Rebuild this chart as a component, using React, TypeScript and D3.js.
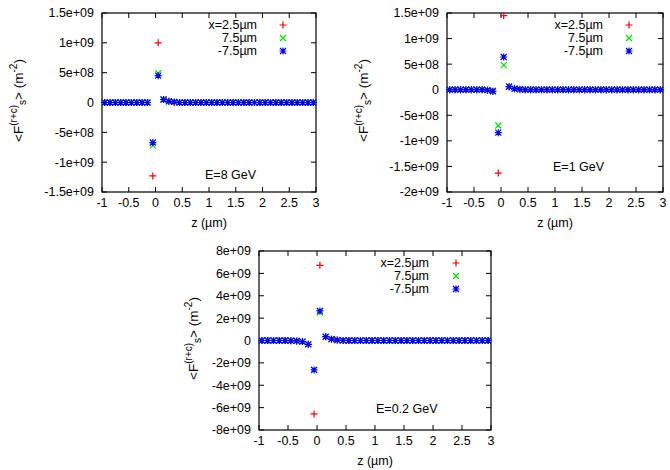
import React from "react";
import * as d3 from "d3";

// z positions (µm)
const Z = [
  -0.95, -0.85, -0.75, -0.65, -0.55, -0.45, -0.35, -0.25, -0.15, -0.05,
  0.05, 0.15, 0.25, 0.35, 0.45, 0.55, 0.65, 0.75, 0.85, 0.95,
  1.05, 1.15, 1.25, 1.35, 1.45, 1.55, 1.65, 1.75, 1.85, 1.95,
  2.05, 2.15, 2.25, 2.35, 2.45, 2.55, 2.65, 2.75, 2.85, 2.95,
];

// values in units of 1e9 m^-2
const E8_X25 = [
  0, 0, 0, 0, 0, 0, 0, 0, 0, -1.23,
  1.0, 0.05, 0.02, 0, 0, 0, 0, 0, 0, 0,
  0, 0, 0, 0, 0, 0, 0, 0, 0, 0,
  0, 0, 0, 0, 0, 0, 0, 0, 0, 0,
];
const E8_X75 = [
  0, 0, 0, 0, 0, 0, 0, 0, 0, -0.72,
  0.49, 0.05, 0.02, 0.01, 0, 0, 0, 0, 0, 0,
  0, 0, 0, 0, 0, 0, 0, 0, 0, 0,
  0, 0, 0, 0, 0, 0, 0, 0, 0, 0,
];
const E8_XM75 = [
  0, 0, 0, 0, 0, 0, 0, 0, 0, -0.67,
  0.45, 0.05, 0.02, 0.01, 0, 0, 0, 0, 0, 0,
  0, 0, 0, 0, 0, 0, 0, 0, 0, 0,
  0, 0, 0, 0, 0, 0, 0, 0, 0, 0,
];

const E1_X25 = [
  0, 0, 0, 0, 0, 0, 0, -0.01, -0.03, -1.63,
  1.45, 0.06, 0.02, 0, 0, 0, 0, 0, 0, 0,
  0, 0, 0, 0, 0, 0, 0, 0, 0, 0,
  0, 0, 0, 0, 0, 0, 0, 0, 0, 0,
];
const E1_X75 = [
  0, 0, 0, 0, 0, 0, 0, -0.01, -0.02, -0.7,
  0.48, 0.06, 0.02, 0, 0, 0, 0, 0, 0, 0,
  0, 0, 0, 0, 0, 0, 0, 0, 0, 0,
  0, 0, 0, 0, 0, 0, 0, 0, 0, 0,
];
const E1_XM75 = [
  0, 0, 0, 0, 0, 0, 0, -0.01, -0.03, -0.84,
  0.64, 0.06, 0.02, 0.01, 0, 0, 0, 0, 0, 0,
  0, 0, 0, 0, 0, 0, 0, 0, 0, 0,
  0, 0, 0, 0, 0, 0, 0, 0, 0, 0,
];

const E02_X25 = [
  0, 0, 0, 0, 0, -0.02, -0.04, -0.1, -0.34, -6.56,
  6.72, 0.34, 0.12, 0.04, 0, 0, 0, 0, 0, 0,
  0, 0, 0, 0, 0, 0, 0, 0, 0, 0,
  0, 0, 0, 0, 0, 0, 0, 0, 0, 0,
];
const E02_X75 = [
  0, 0, 0, 0, 0, -0.02, -0.04, -0.1, -0.32, -2.62,
  2.5, 0.32, 0.12, 0.04, 0, 0, 0, 0, 0, 0,
  0, 0, 0, 0, 0, 0, 0, 0, 0, 0,
  0, 0, 0, 0, 0, 0, 0, 0, 0, 0,
];
const E02_XM75 = [
  0, 0, 0, 0, 0, -0.02, -0.04, -0.1, -0.34, -2.63,
  2.64, 0.34, 0.12, 0.04, 0.01, 0, 0, 0, 0, 0,
  0, 0, 0, 0, 0, 0, 0, 0, 0, 0,
  0, 0, 0, 0, 0, 0, 0, 0, 0, 0,
];

const X_TICKS = [-1, -0.5, 0, 0.5, 1, 1.5, 2, 2.5, 3];
const X_TICK_LABELS = ["-1", "-0.5", "0", "0.5", "1", "1.5", "2", "2.5", "3"];

const Y8_TICKS = [1.5, 1, 0.5, 0, -0.5, -1, -1.5];
const Y8_LABELS = ["1.5e+09", "1e+09", "5e+08", "0", "-5e+08", "-1e+09", "-1.5e+09"];
const Y1_TICKS = [1.5, 1, 0.5, 0, -0.5, -1, -1.5, -2];
const Y1_LABELS = ["1.5e+09", "1e+09", "5e+08", "0", "-5e+08", "-1e+09", "-1.5e+09", "-2e+09"];
const Y02_TICKS = [8, 6, 4, 2, 0, -2, -4, -6, -8];
const Y02_LABELS = ["8e+09", "6e+09", "4e+09", "2e+09", "0", "-2e+09", "-4e+09", "-6e+09", "-8e+09"];

const SERIES_NAMES = ["x=2.5µm", "7.5µm", "-7.5µm"];
const COLORS = ["#ff0000", "#00e000", "#0000ff"];
const MARKERS = ["plus", "cross", "star"];

const FONT = "'Liberation Sans', Arial, Helvetica, sans-serif";

function markerPath(type: string, s: number) {
  const plus = `M${-s},0H${s}M0,${-s}V${s}`;
  const c = s * 0.85;
  const cross = `M${-c},${-c}L${c},${c}M${-c},${c}L${c},${-c}`;
  if (type === "plus") return plus;
  if (type === "cross") return cross;
  return plus + cross;
}

type PanelProps = {
  x0: number; x1: number; y0: number; y1: number;
  yDomain: [number, number];
  yTicks: number[]; yLabels: string[];
  series: number[][];
  eLabel: string; eX: number; eY: number;
  legX: number; legSymX: number; legY: number;
  ylabX: number;
};

function Panel(p: PanelProps) {
  const x = d3.scaleLinear().domain([-1, 3]).range([p.x0, p.x1]);
  const y = d3.scaleLinear().domain(p.yDomain).range([p.y1, p.y0]);
  const tl = 5;
  const midY = (p.y0 + p.y1) / 2 - 2;
  return (
    <g fontFamily={FONT} fontSize={12.5} fill="#000">
      {X_TICKS.map((t, i) => (
        <g key={"xt" + i}>
          <line x1={x(t)} x2={x(t)} y1={p.y1} y2={p.y1 - tl} stroke="#000" />
          <line x1={x(t)} x2={x(t)} y1={p.y0} y2={p.y0 + tl} stroke="#000" />
          <text x={x(t)} y={p.y1 + 11} dy="0.35em" textAnchor="middle">{X_TICK_LABELS[i]}</text>
        </g>
      ))}
      {p.yTicks.map((t, i) => (
        <g key={"yt" + i}>
          <line x1={p.x0} x2={p.x0 + tl} y1={y(t)} y2={y(t)} stroke="#000" />
          <line x1={p.x1} x2={p.x1 - tl} y1={y(t)} y2={y(t)} stroke="#000" />
          <text x={p.x0 - 8} y={y(t)} dy="0.35em" textAnchor="end">{p.yLabels[i]}</text>
        </g>
      ))}
      <rect x={p.x0} y={p.y0} width={p.x1 - p.x0} height={p.y1 - p.y0} fill="none" stroke="#000" strokeWidth={1.2} />
      <text x={(p.x0 + p.x1) / 2} y={p.y1 + 31} dy="0.35em" textAnchor="middle">z (µm)</text>
      <text transform={`translate(${p.ylabX},${midY}) rotate(-90)`} textAnchor="middle" dy="0.35em" fontSize={13.5}>
        <tspan>&lt;F</tspan>
        <tspan fontSize={10} dy={-5.5}>(r+c)</tspan>
        <tspan fontSize={10} dy={9}>s</tspan>
        <tspan dy={-3.5}>&gt; (m</tspan>
        <tspan fontSize={10} dy={-5.5}>-2</tspan>
        <tspan dy={5.5}>)</tspan>
      </text>
      {p.series.map((vals, si) => (
        <g key={"s" + si} stroke={COLORS[si]} strokeWidth={1.2} fill="none">
          {vals.map((v, i) => (
            <path key={i} transform={`translate(${x(Z[i])},${y(v)})`} d={markerPath(MARKERS[si], 3.5)} />
          ))}
        </g>
      ))}
      {SERIES_NAMES.map((n, i) => (
        <g key={"l" + i}>
          <text x={p.legX} y={p.legY + i * 13} dy="0.35em" textAnchor="end">{n}</text>
          <path transform={`translate(${p.legSymX},${p.legY + i * 13})`} d={markerPath(MARKERS[i], 3.5)} stroke={COLORS[i]} strokeWidth={1.2} fill="none" />
        </g>
      ))}
      <text x={p.eX} y={p.eY} dy="0.35em">{p.eLabel}</text>
    </g>
  );
}

export default function App() {
  return (
    <svg width={670} height={470} style={{ position: "absolute", left: 0, top: 0, background: "#fff" }}>
      <Panel x0={102} x1={316} y0={13} y1={192} yDomain={[-1.5, 1.5]} yTicks={Y8_TICKS} yLabels={Y8_LABELS}
        series={[E8_X25, E8_X75, E8_XM75]} eLabel="E=8 GeV" eX={205} eY={175}
        legX={257} legSymX={283} legY={25} ylabX={18} />
      <Panel x0={447} x1={663} y0={13} y1={192} yDomain={[-2, 1.5]} yTicks={Y1_TICKS} yLabels={Y1_LABELS}
        series={[E1_X25, E1_X75, E1_XM75]} eLabel="E=1 GeV" eX={553} eY={167}
        legX={603} legSymX={629} legY={25} ylabX={363} />
      <Panel x0={259} x1={491} y0={251} y1={430} yDomain={[-8, 8]} yTicks={Y02_TICKS} yLabels={Y02_LABELS}
        series={[E02_X25, E02_X75, E02_XM75]} eLabel="E=0.2 GeV" eX={376} eY={409}
        legX={429} legSymX={456} legY={263} ylabX={193} />
    </svg>
  );
}
